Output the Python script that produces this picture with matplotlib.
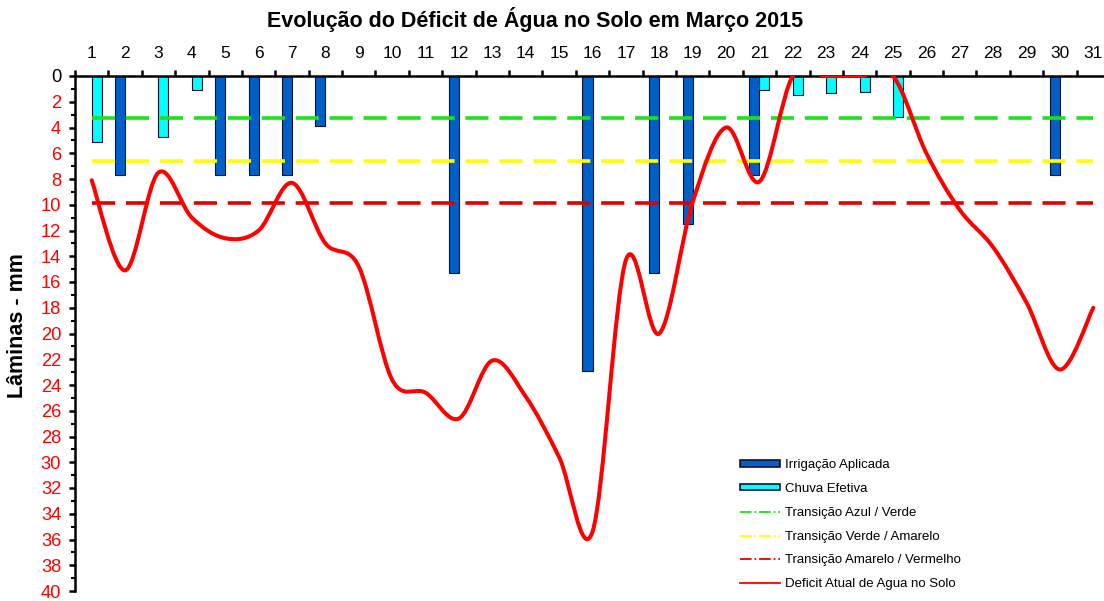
import numpy as np
import matplotlib
matplotlib.use('Agg')
import matplotlib.pyplot as plt
from matplotlib.path import Path
from matplotlib.patches import PathPatch, Patch
from matplotlib.lines import Line2D

plt.rcParams['font.family'] = ['Liberation Sans', 'DejaVu Sans']

# dias de março
dias = np.arange(1, 32)

# irrigação aplicada (mm)
irrigacao = [0, 7.7, 0, 0, 7.7, 7.7, 7.7, 3.9, 0, 0, 0, 15.3, 0, 0, 0, 22.9,
             0, 15.3, 11.5, 0, 7.7, 0, 0, 0, 0, 0, 0, 0, 0, 7.7, 0]

# chuva efetiva (mm)
chuva = [5.1, 0, 4.7, 1.1, 0, 0, 0, 0, 0, 0, 0, 0, 0, 0, 0, 0,
         0, 0, 0, 0, 1.1, 1.5, 1.3, 1.25, 3.2, 0, 0, 0, 0, 0, 0]

# déficit atual de água no solo (mm)
deficit = [8.1, 15.1, 7.5, 11.0, 12.6, 12.0, 8.3, 13.0, 14.8, 23.6, 24.6,
           26.6, 22.1, 24.9, 29.6, 35.4, 14.3, 20.0, 9.8, 4.0, 8.2, 0, 0, 0,
           0, 6.0, 10.4, 13.3, 17.6, 22.8, 18.0]

# transições
azul_verde = 3.3
verde_amarelo = 6.6
amarelo_vermelho = 9.85

c_irr = '#0060C8'
c_chuva = '#00FFFF'
c_verde = '#1EE01E'
c_amarelo = '#FFFF00'
c_vermelho = '#E00000'


def curva_suave(x, y):
    # curva de Bezier passando pelos pontos (como linha suavizada do Excel)
    pts = np.column_stack([x, y]).astype(float)
    ext = np.vstack([pts[0], pts, pts[-1]])
    verts = [pts[0]]
    codes = [Path.MOVETO]
    for i in range(len(pts) - 1):
        p0, p1, p2, p3 = ext[i], ext[i + 1], ext[i + 2], ext[i + 3]
        verts += [p1 + (p2 - p0) / 6, p2 - (p3 - p1) / 6, p2]
        codes += [Path.CURVE4] * 3
    return Path(verts, codes)


fig = plt.figure(figsize=(11.04, 6.01), dpi=100)
ax = fig.add_axes([75 / 1104, 1 - 591 / 601, 1035 / 1104, 515 / 601])

irr = np.array(irrigacao)
ch = np.array(chuva)
m1 = irr > 0
m2 = ch > 0
ax.bar(dias[m1] - 0.15, irr[m1], width=0.3, color=c_irr,
       edgecolor='#101030', linewidth=0.8, zorder=2)
ax.bar(dias[m2] + 0.15, ch[m2], width=0.3, color=c_chuva,
       edgecolor='#101030', linewidth=0.8, zorder=2)

for val, cor in [(azul_verde, c_verde), (verde_amarelo, c_amarelo),
                 (amarelo_vermelho, c_vermelho)]:
    ax.hlines(val, dias[0], dias[-1], colors=cor, linewidth=2.6,
              linestyles=[(0, (6.4, 3.0))], zorder=3)

ax.add_patch(PathPatch(curva_suave(dias, deficit), fill=False,
                       edgecolor='#FF0000', linewidth=2.9, zorder=4,
                       capstyle='round', joinstyle='round'))

ax.set_xlim(0.5, 31.5)
ax.set_ylim(40, 0)

ax.spines['right'].set_visible(False)
ax.spines['bottom'].set_visible(False)
ax.spines['left'].set_linewidth(1.8)
ax.spines['top'].set_linewidth(1.8)

ax.xaxis.tick_top()
ax.set_xticks(dias)
ax.set_xticklabels([str(d) for d in dias])
ax.set_xticks(np.arange(0.5, 32, 1), minor=True)
ax.tick_params(axis='x', which='major', length=0, pad=11, labelsize=12.5)
ax.tick_params(axis='x', which='minor', length=4, width=1.8, direction='out')

ax.set_yticks(np.arange(0, 41, 2))
ax.set_yticks(np.arange(0, 41, 1), minor=True)
ax.tick_params(axis='y', which='major', length=4.5, width=1.8, pad=5.5,
               labelsize=13.2, labelcolor='#FF0000')
ax.tick_params(axis='y', which='minor', length=3, width=1.5)
ax.get_yticklabels()[0].set_color('black')

ax.set_ylabel('Lâminas - mm', fontsize=15.5, fontweight='bold')
ax.yaxis.set_label_coords(-0.045, 0.515)

fig.text(0.485, 0.968, 'Evolução do Déficit de Água no Solo em Março 2015',
         ha='center', va='center', fontsize=15.5, fontweight='bold')

handles = [
    Patch(facecolor=c_irr, edgecolor='#101030', linewidth=1.2),
    Patch(facecolor=c_chuva, edgecolor='#101030', linewidth=1.2),
    Line2D([], [], color=c_verde, linestyle='-.', linewidth=1.3),
    Line2D([], [], color=c_amarelo, linestyle='-.', linewidth=1.3),
    Line2D([], [], color=c_vermelho, linestyle='-.', linewidth=1.3),
    Line2D([], [], color='#FF0000', linewidth=1.3),
]
labels = ['Irrigação Aplicada', 'Chuva Efetiva', 'Transição Azul / Verde',
          'Transição Verde / Amarelo', 'Transição Amarelo / Vermelho',
          'Deficit Atual de Agua no Solo']
ax.legend(handles, labels, loc='upper left', frameon=False, fontsize=9.5,
          bbox_to_anchor=(740 / 1104, 1 - 459 / 601),
          bbox_transform=fig.transFigure, borderpad=0, borderaxespad=0,
          handlelength=3.0, handleheight=0.4, handletextpad=0.4,
          labelspacing=0.9)

fig.savefig('out.png', dpi=100)
